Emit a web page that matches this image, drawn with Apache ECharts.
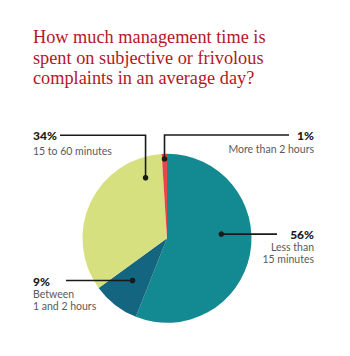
<!DOCTYPE html>
<html>
<head>
<meta charset="utf-8">
<script src="https://cdn.jsdelivr.net/npm/echarts@6/dist/echarts.min.js"></script>
<style>
html,body{margin:0;padding:0;background:#fff;}
#main{width:350px;height:356px;}
</style>
</head>
<body>
<div id="main"></div>
<script>
// ---- data ----
const titleLines = ['How much management time is', 'spent on subjective or frivolous', 'complaints in an average day?'];
const categories = ['Less than 15 minutes', 'Between 1 and 2 hours', '15 to 60 minutes', 'More than 2 hours'];
const values = [56, 9, 34, 1];
const subLabels = [['Less than', '15 minutes'], ['Between', '1 and 2 hours'], ['15 to 60 minutes'], ['More than 2 hours']];
const colors = ['#138a91', '#146580', '#d6e07f', '#e8474a'];

// ---- callout layout (annotation placement, not data) ----
// anchor: angle clockwise from 12 o'clock (deg) and fraction of radius
const callouts = [
  { a: 85.6, f: 0.645, kind: 'h', lineEnd: 277, align: 'right', tx: 314, ty: [234, 246.5, 258.5] },
  { a: 219.3, f: 0.645, kind: 'h', lineEnd: 66, align: 'left', tx: 33, ty: [281, 294, 306] },
  { a: 340.5, f: 0.76, kind: 'vh', cornerY: 135.3, lineEnd: 60, align: 'left', tx: 33, ty: [135.5, 150.5] },
  { a: 358.2, f: 0.94, kind: 'vh', cornerY: 135, lineEnd: 289, align: 'right', tx: 314, ty: [135, 148.5] }
];

const chart = echarts.init(document.getElementById('main'), null, { renderer: 'svg' });
const PIE_CENTER = [167, 238.3];
const PIE_R = 84.5;

chart.setOption({
  animation: false,
  backgroundColor: '#fff',
  title: {
    text: titleLines.join('\n'),
    left: 28,
    top: 22,
    textStyle: {
      fontFamily: 'Liberation Serif',
      fontWeight: 'normal',
      fontSize: 18.3,
      lineHeight: 20.5,
      color: '#b3171f'
    }
  },
  series: [{
    type: 'pie',
    center: PIE_CENTER,
    radius: PIE_R,
    startAngle: 90,
    clockwise: true,
    label: { show: false },
    labelLine: { show: false },
    emphasis: { disabled: true },
    itemStyle: { borderWidth: 0 },
    data: categories.map((c, i) => ({ name: c, value: values[i], itemStyle: { color: colors[i] } }))
  }]
});

// read pie layout from the library
let cx = PIE_CENTER[0], cy = PIE_CENTER[1], r = PIE_R;
try {
  const lay = chart.getModel().getSeriesByIndex(0).getData().getItemLayout(0);
  if (lay) { cx = lay.cx; cy = lay.cy; r = lay.r; }
} catch (e) {}

const graphics = [];
callouts.forEach((c, i) => {
  const rad = c.a * Math.PI / 180;
  const dx = cx + c.f * r * Math.sin(rad);
  const dy = cy - c.f * r * Math.cos(rad);
  let pts;
  if (c.kind === 'h') pts = [[dx, dy], [c.lineEnd, dy]];
  else pts = [[dx, dy], [dx, c.cornerY], [c.lineEnd, c.cornerY]];
  graphics.push({
    type: 'polyline', silent: true, z: 10,
    shape: { points: pts },
    style: { stroke: '#1a1a1a', lineWidth: 1.6, fill: null }
  });
  graphics.push({
    type: 'circle', silent: true, z: 11,
    shape: { cx: dx, cy: dy, r: 2.8 },
    style: { fill: '#1a1a1a' }
  });
  graphics.push({
    type: 'text', silent: true, z: 11,
    x: c.tx, y: c.ty[0],
    style: {
      text: values[i] + '%',
      font: '900 12px Lato',
      fill: '#1a1a1a',
      align: c.align,
      verticalAlign: 'middle'
    }
  });
  subLabels[i].forEach((s, j) => {
    graphics.push({
      type: 'text', silent: true, z: 11,
      x: c.tx, y: c.ty[j + 1],
      style: {
        text: s,
        font: '10.5px Lato',
        fill: '#5a5a5a',
        align: c.align,
        verticalAlign: 'middle'
      }
    });
  });
});
chart.setOption({ graphic: graphics });
</script>
</body>
</html>
